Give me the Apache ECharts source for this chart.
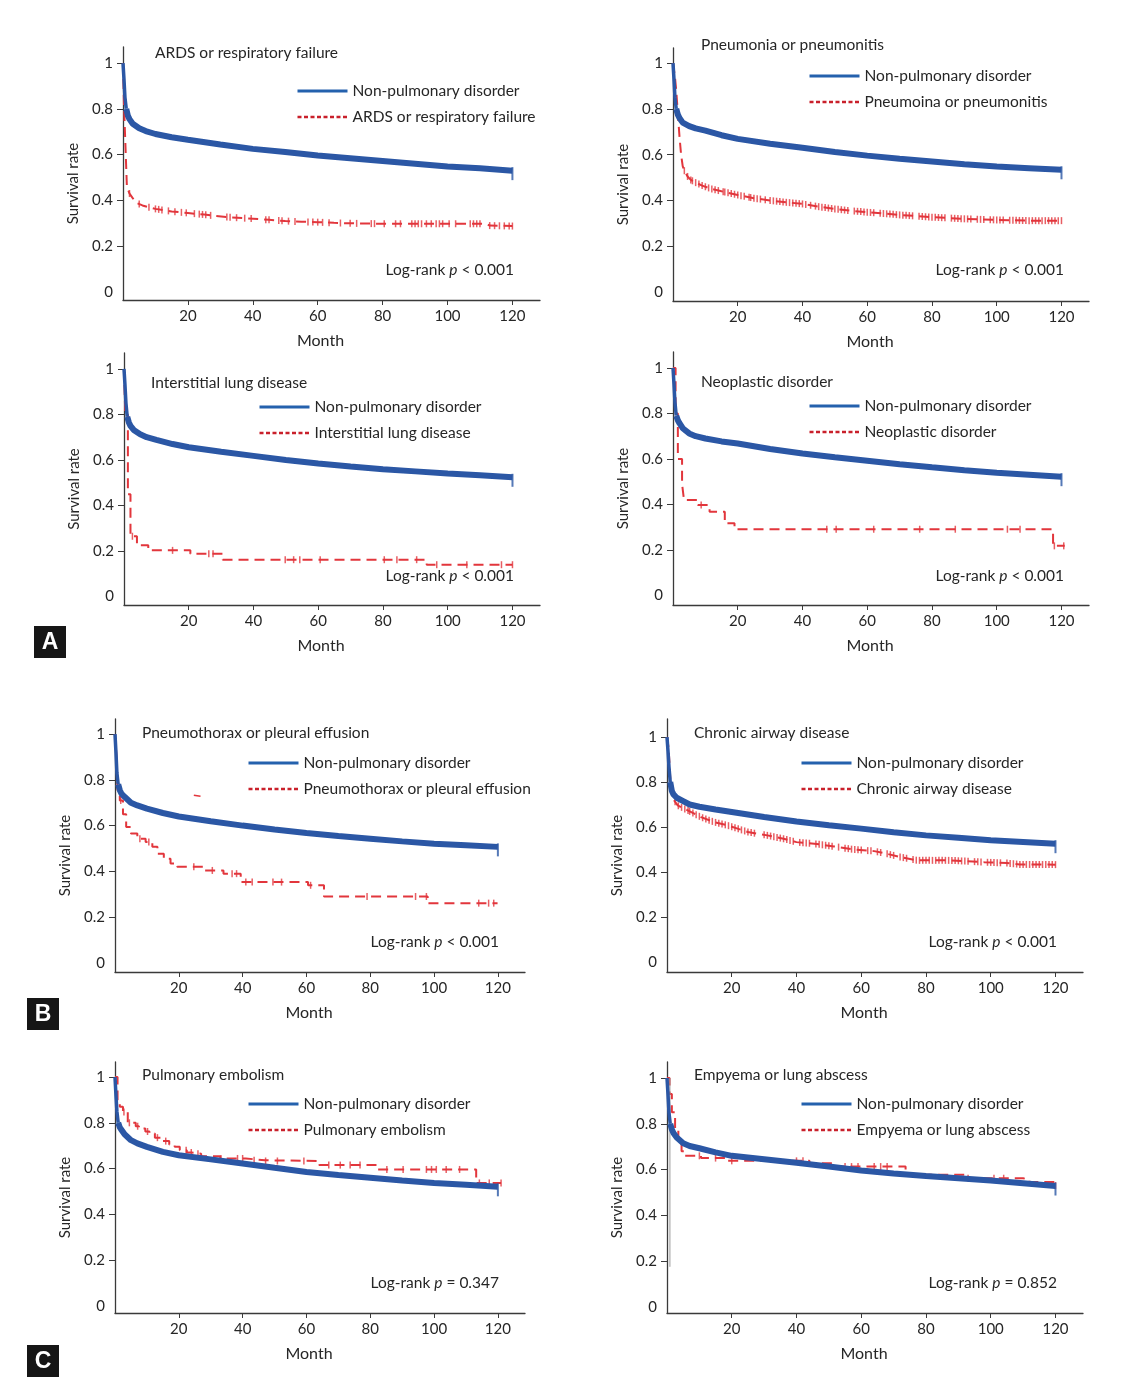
<!DOCTYPE html>
<html><head><meta charset="utf-8">
<script src="https://cdn.jsdelivr.net/npm/echarts@6/dist/echarts.min.js"></script>
<style>html,body{margin:0;padding:0;background:#fff}#c{width:1129px;height:1396px}</style>
</head><body><div id="c"></div>
<script>
// ---------------- DATA ----------------
const blueName = 'Non-pulmonary disorder';
const panelTitles = ['ARDS or respiratory failure','Pneumonia or pneumonitis','Interstitial lung disease','Neoplastic disorder',
  'Pneumothorax or pleural effusion','Chronic airway disease','Pulmonary embolism','Empyema or lung abscess'];
const redNames = ['ARDS or respiratory failure','Pneumoina or pneumonitis','Interstitial lung disease','Neoplastic disorder',
  'Pneumothorax or pleural effusion','Chronic airway disease','Pulmonary embolism','Empyema or lung abscess'];
const pTexts = ['< 0.001','< 0.001','< 0.001','< 0.001','< 0.001','< 0.001','= 0.347','= 0.852'];
const xTickValues = [20,40,60,80,100,120];
const yTickValues = [0.2,0.4,0.6,0.8,1];
const yLabelValues = [0,0.2,0.4,0.6,0.8,1];

// Non-pulmonary disorder (blue) survival read at these months
const blueTimes = [0,0.3,0.6,1,1.5,2,3,5,7,10,15,20,30,40,50,60,70,80,90,100,110,120];
const blueP1 = [1,0.93,0.85,0.80,0.77,0.755,0.735,0.715,0.703,0.69,0.676,0.665,0.644,0.625,0.611,0.596,0.584,0.572,0.56,0.548,0.54,0.53];
const blueP2 = [1,0.93,0.85,0.80,0.775,0.76,0.74,0.725,0.715,0.705,0.685,0.669,0.648,0.63,0.612,0.596,0.582,0.57,0.558,0.548,0.541,0.534];
const blueP3 = [1,0.93,0.85,0.79,0.765,0.75,0.732,0.713,0.70,0.688,0.67,0.656,0.636,0.618,0.60,0.585,0.571,0.559,0.55,0.541,0.533,0.524];
const blueP4 = [1,0.93,0.85,0.79,0.77,0.757,0.735,0.712,0.70,0.69,0.677,0.668,0.644,0.624,0.607,0.592,0.577,0.563,0.55,0.539,0.531,0.522];
const blueP5 = [1,0.92,0.83,0.78,0.755,0.74,0.726,0.70,0.688,0.674,0.655,0.64,0.619,0.60,0.583,0.568,0.555,0.543,0.531,0.521,0.514,0.507];
const blueP6 = [1,0.94,0.87,0.80,0.76,0.745,0.73,0.715,0.70,0.69,0.678,0.667,0.645,0.625,0.608,0.593,0.577,0.563,0.552,0.541,0.534,0.526];
const blueP7 = [1,0.92,0.85,0.80,0.78,0.77,0.75,0.724,0.71,0.695,0.673,0.658,0.64,0.622,0.603,0.585,0.572,0.56,0.548,0.537,0.529,0.52];
const blueP8 = [1,0.93,0.85,0.80,0.775,0.76,0.74,0.715,0.703,0.693,0.675,0.66,0.645,0.63,0.613,0.596,0.583,0.572,0.562,0.552,0.54,0.528];

// Comparison group (red) curves [month, survival]
const redP1 = [[0,1],[0.3,0.82],[0.8,0.62],[1.2,0.46],[2,0.43],[2.5,0.42],[4,0.39],[6,0.378],[8,0.37],[10,0.363],[15,0.352],[20,0.345],[25,0.338],[28,0.333],[32,0.327],[38,0.322],[45,0.315],[50,0.31],[55,0.307],[60,0.305],[65,0.302],[70,0.3],[80,0.298],[112,0.298],[113,0.29],[120,0.288]];
const censorP1 = [2,5,8,10,11,12,14,16,18,19.5,22,23.5,24.5,25.5,27,32,33,35,37.5,39.5,44,45,48,49,51,53,57,58.5,60,61.5,63.5,67,70,72,76.5,77.5,80.5,84,85.5,89,90,91,92,93.5,95,96.5,97.5,98.5,100.5,102.5,107,108,109,110,113,114.5,116,117.5,119,120];
const redP2 = [[0,1],[0.6,0.94],[1,0.88],[1.5,0.78],[2,0.68],[2.5,0.6],[3,0.55],[3.5,0.53],[4.5,0.505],[5.5,0.49],[7,0.478],[9,0.465],[12,0.45],[15,0.44],[20,0.424],[25,0.41],[30,0.4],[35,0.392],[40,0.385],[45,0.373],[50,0.363],[55,0.355],[60,0.349],[70,0.337],[80,0.327],[90,0.32],[100,0.315],[110,0.312],[120,0.312]];
const censorP2 = [3.5,4.5,5.5,6,7,8,9,10,11,12,13,14,15.5,16,17,18,19,20,21,22,23.5,24,25,26,27,28.5,30,31,32,33,34,35,36,37,38,39,40,41,42.5,44,45,46,47,48,49,50,51,52,53,54,56,57,58,59,60,61,62,64,65,66,67,68,69,70,71,72,73,74,76,77,78,79,80,81,82,83,84,86,87,88,89,90,91,92,94,95,96,98,99,100,101,102,104,105,106,107,108,109,110,111,112,113,114,115,116,117,118,119,120];
const redP3 = [[0,1],[0.4,0.8],[1.2,0.45],[2,0.265],[4,0.225],[7.5,0.203],[20.5,0.188],[30.5,0.162],[93.5,0.14],[120,0.14]];
const censorP3 = [2.6,15,26.2,27.5,49.8,52.4,54.3,60.6,80.4,84.3,90.4,96.6,105.9,116.6,120];
const redP4 = [[0,1],[0.8,0.8],[1.5,0.6],[2.8,0.49],[3.4,0.42],[7.7,0.397],[11.3,0.368],[16,0.317],[19,0.291],[117.4,0.218],[121,0.218]];
const censorP4 = [8.7,47.5,50.4,62,76.2,87.2,103.3,107.2,117.8,120.7];
const redP5 = [[0,1],[0.5,0.9],[0.8,0.755],[1.5,0.71],[2.5,0.65],[3.5,0.594],[5,0.565],[7,0.543],[9.6,0.528],[11.7,0.507],[13.3,0.477],[15.3,0.455],[17.4,0.434],[19.5,0.42],[28,0.404],[34,0.39],[39.4,0.353],[60.5,0.339],[65.5,0.29],[98,0.261],[119.9,0.261]];
const censorP5 = [1.8,7.8,10.6,24.7,30.5,36.7,38.1,41,43,49.5,52.2,61.3,79,94.2,97.6,114,117.1,118.7];
const strayP5 = [[24.7,0.733],[26.8,0.728]];
const redP6 = [[0,1],[0.5,0.95],[1,0.82],[1.3,0.763],[1.8,0.726],[3.3,0.696],[6.4,0.674],[10.5,0.644],[14.6,0.622],[18.8,0.607],[21.8,0.593],[25,0.578],[28,0.57],[31,0.563],[36,0.548],[40,0.533],[45.5,0.526],[51.6,0.514],[57.8,0.5],[64,0.493],[68,0.481],[72,0.467],[77.3,0.452],[87.6,0.452],[98,0.444],[105,0.44],[109,0.434],[120,0.433]];
const censorP6 = [2.5,3.5,4.5,5.5,6.5,7,8,9,10,11,12,13,14,15,16,17,18,19,20,21,22,23,24,25,26,27,30,31,32,33,34,35,36,37,38,39,41,42,43,44,46,47,48,49,50,51,53,55,56,57,58,59,60,62,63,65,66,68,69,70,72,73,74,76,77,78,79,80,81,82,83,84,85,86,87,88,89,90,91,92,93,95,96,97,99,100,101,102,103,105,106,107,108,109,110,111,112,113,114,115,116,117,118,119,120];
const redP7 = [[0,1],[0.8,0.9],[1.5,0.87],[2.5,0.847],[4,0.8],[6.5,0.785],[7.5,0.775],[9.5,0.762],[10.8,0.753],[12.5,0.735],[14.5,0.72],[17,0.705],[18.7,0.695],[20.3,0.68],[22.5,0.67],[24,0.665],[27,0.654],[33,0.644],[41,0.636],[47,0.633],[64,0.615],[82,0.596],[113.2,0.537],[121,0.537]];
const censorP7 = [2.8,4.5,7.1,10.2,13.3,15.9,22.3,23.9,26,33.2,38.4,40,43.6,47.2,50.9,59.2,67,70.6,73.7,76.8,85.2,90.3,97.6,99.2,100.7,103.8,108,114.2,117.3,121];
const redP8 = [[0,1],[0.8,0.93],[1.5,0.85],[2.5,0.78],[3.5,0.72],[4.5,0.68],[5.2,0.66],[10.5,0.65],[18,0.638],[44,0.628],[52,0.613],[73.7,0.577],[92,0.562],[110,0.555],[112,0.545],[120,0.53]];
const censorP8 = [10,15,20,40,42,55,57,59,64,66,68,93,101,104,120];
const strayP8 = [[0.9,0.175],[0.9,1]];

const blueSets = [blueP1,blueP2,blueP3,blueP4,blueP5,blueP6,blueP7,blueP8];
const redSets = [redP1,redP2,redP3,redP4,redP5,redP6,redP7,redP8];
const censorSets = [censorP1,censorP2,censorP3,censorP4,censorP5,censorP6,censorP7,censorP8];
const redStep = [false,false,'end','end','end',false,'end','end'];

// ---------------- LAYOUT ----------------
const FONT = 'Lato, "Open Sans", sans-serif';
const FS = 15.5;
const TEXT = '#262626', AXIS = '#3a3a3a';
const BLUE = '#2b57a5', BLUE_L = '#2461ad', RED = '#e2363c', RED_L = '#c9202b';
const HIDE = {color:'rgba(0,0,0,0)', borderColor:'rgba(0,0,0,0)', borderWidth:0, opacity:0};
const panels = [
  {left:123,top:47,width:417,height:253,ymin:-0.035,ymax:1.07, lgL:296,lgT:83, tL:155,tY:53, pR:514,pY:270},
  {left:673,top:48,width:416,height:253,ymin:-0.039,ymax:1.066, lgL:808,lgT:68, tL:701,tY:45, pR:1064,pY:270},
  {left:124,top:353,width:416,height:252,ymin:-0.037,ymax:1.07, lgL:258,lgT:399, tL:151,tY:383, pR:514,pY:576},
  {left:673,top:352,width:416,height:253,ymin:-0.042,ymax:1.07, lgL:808,lgT:398, tL:701,tY:382, pR:1064,pY:576},
  {left:115,top:719,width:410,height:253,ymin:-0.04,ymax:1.066, lgL:247,lgT:755, tL:142,tY:733, pR:499,pY:942},
  {left:667,top:719,width:416,height:253,ymin:-0.044,ymax:1.08, lgL:800,lgT:755, tL:694,tY:733, pR:1057,pY:942},
  {left:115,top:1062,width:410,height:251,ymin:-0.032,ymax:1.066, lgL:247,lgT:1096, tL:142,tY:1075, pR:499,pY:1283},
  {left:667,top:1062,width:416,height:251,ymin:-0.027,ymax:1.07, lgL:800,lgT:1096, tL:694,tY:1075, pR:1057,pY:1283}
];

function survAt(curve, t, step) {
  let v = curve[0][1];
  for (let i = 0; i < curve.length; i++) {
    if (curve[i][0] <= t) { v = curve[i][1]; }
    else {
      if (!step && i > 0) {
        const [t0, s0] = curve[i-1], [t1, s1] = curve[i];
        return s0 + (s1 - s0) * (t - t0) / (t1 - t0);
      }
      break;
    }
  }
  return v;
}

const grid = [], xAxis = [], yAxis = [], series = [], legend = [], title = [];
panels.forEach((p, i) => {
  grid.push({left:p.left, top:p.top, width:p.width, height:p.height});
  xAxis.push({gridIndex:i, type:'value', min:0, max:128.5,
    axisLine:{show:true, onZero:false, lineStyle:{color:AXIS, width:1.3}},
    axisTick:{show:true, customValues:xTickValues, length:5, lineStyle:{color:AXIS, width:1}},
    axisLabel:{customValues:xTickValues, margin:9, fontSize:15, color:TEXT, fontFamily:FONT},
    splitLine:{show:false},
    name:'Month', nameLocation:'middle', nameGap:33,
    nameTextStyle:{fontSize:16, color:TEXT, fontFamily:FONT, padding:[0,22,0,0]}});
  yAxis.push({gridIndex:i, type:'value', min:p.ymin, max:p.ymax,
    axisLine:{show:true, onZero:false, lineStyle:{color:AXIS, width:1.3}},
    axisTick:{show:true, customValues:yTickValues, length:6, lineStyle:{color:AXIS, width:1}},
    axisLabel:{customValues:yLabelValues, margin:10, fontSize:15, color:TEXT, fontFamily:FONT,
      formatter: v => String(Math.round(v*10)/10)},
    splitLine:{show:false},
    name:'Survival rate', nameLocation:'middle', nameGap:42,
    nameTextStyle:{fontSize:15, color:TEXT, fontFamily:FONT, padding:[0,20,0,0]}});

  const red = redSets[i], step = redStep[i];
  series.push({type:'line', name:redNames[i], xAxisIndex:i, yAxisIndex:i, data:red, step:step,
    symbol:'none', z:2, silent:true, lineStyle:{color:RED, width:2, type:[10,6]}});
  series.push({type:'scatter', name:'censor-'+i, xAxisIndex:i, yAxisIndex:i, silent:true, z:3,
    data:censorSets[i].map(t => [t, survAt(red, t, step)]),
    symbol:'rect', symbolSize:[1.5,7], itemStyle:{color:RED}});

  const bd = blueTimes.map((t, k) => [t, blueSets[i][k]]);
  series.push({type:'line', name:'np-start-'+i, xAxisIndex:i, yAxisIndex:i, data:bd.slice(0,4),
    symbol:'none', z:4, silent:true, lineStyle:{color:BLUE, width:3.5}});
  series.push({type:'line', name:blueName, xAxisIndex:i, yAxisIndex:i, data:bd.slice(3),
    symbol:'none', z:4, silent:true, lineStyle:{color:BLUE, width:6}});
  series.push({type:'scatter', name:'np-end-'+i, xAxisIndex:i, yAxisIndex:i, silent:true, z:5,
    data:[bd[bd.length-1]], symbol:'rect', symbolSize:[2,13], symbolOffset:[0,3], itemStyle:{color:BLUE}});

  legend.push({left:p.lgL, top:p.lgT, orient:'vertical', itemWidth:50, itemHeight:16, itemGap:10, padding:0,
    selectedMode:false, textStyle:{fontSize:FS, color:TEXT, fontFamily:FONT, lineHeight:16},
    data:[{name:blueName, itemStyle:HIDE, lineStyle:{color:BLUE_L, width:3, type:'solid'}},
          {name:redNames[i], itemStyle:HIDE, lineStyle:{color:RED_L, width:2.5, type:[4,2.5]}}]});
  title.push({text:panelTitles[i], left:p.tL, top:p.tY-8, padding:0,
    textStyle:{fontSize:FS, fontWeight:'normal', color:TEXT, fontFamily:FONT, lineHeight:16}});
  title.push({text:'Log-rank {i|p} ' + pTexts[i], right:1129-p.pR, top:p.pY-8, padding:0,
    textStyle:{fontSize:FS, fontWeight:'normal', color:TEXT, fontFamily:FONT, lineHeight:16,
      rich:{i:{fontStyle:'italic', fontSize:FS, color:TEXT, fontFamily:FONT, lineHeight:16}}}});
});
series.push({type:'line', name:'stray5', xAxisIndex:4, yAxisIndex:4, data:strayP5, symbol:'none', silent:true,
  lineStyle:{color:RED, width:1.5}});
series.push({type:'line', name:'stray8', xAxisIndex:7, yAxisIndex:7, data:strayP8, symbol:'none', silent:true,
  lineStyle:{color:'#9a9a9a', width:1}});

function tag(letter, x, y) {
  return {type:'group', left:x, top:y, children:[
    {type:'rect', shape:{x:0, y:0, width:32, height:32}, style:{fill:'#161616'}},
    {type:'text', x:16, y:17, style:{text:letter, fill:'#fff', font:'bold 23px "Liberation Sans", Arial, sans-serif',
      align:'center', verticalAlign:'middle'}}]};
}

const chart = echarts.init(document.getElementById('c'), null, {renderer:'canvas'});
chart.setOption({
  animation:false, backgroundColor:'#fff',
  grid, xAxis, yAxis, series, legend, title,
  graphic:[tag('A',34,626), tag('B',27,998), tag('C',27,1345)]
});
</script></body></html>
